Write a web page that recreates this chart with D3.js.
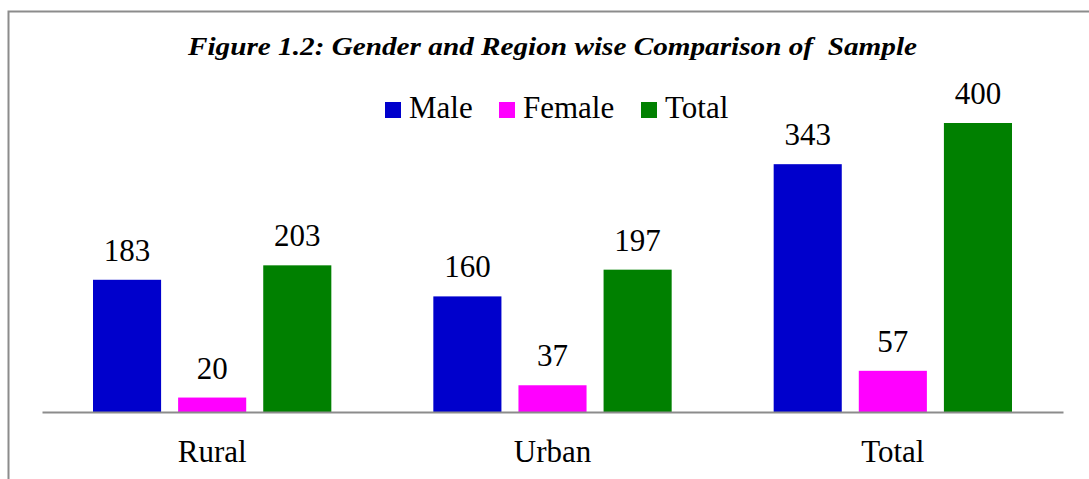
<!DOCTYPE html>
<html><head><meta charset="utf-8">
<script src="https://cdn.jsdelivr.net/npm/d3@7"></script>
<style>body{margin:0;background:#fff}svg{display:block}text{white-space:pre}</style>
</head><body>
<script>
const categories = ["Rural", "Urban", "Total"];
const seriesNames = ["Male", "Female", "Total"];
const male = [183, 160, 343];
const female = [20, 37, 57];
const total = [203, 197, 400];
const colors = ["#0000CC", "#FF00FF", "#008000"];
const title = "Figure 1.2: Gender and Region wise Comparison of  Sample";

const W = 1089, H = 479;
const svg = d3.select("body").append("svg").attr("width", W).attr("height", H);
const font = "'Liberation Serif','Times New Roman',serif";

// border
svg.append("path").attr("d", `M8.5,${H} L8.5,11.5 L${W},11.5`).attr("fill","none").attr("stroke","#8c8c8c").attr("stroke-width",2);

const series = [male, female, total];
const x0 = d3.scaleBand().domain(categories).range([42, 1063]).paddingInner(0).paddingOuter(0);
const x1 = d3.scaleBand().domain(seriesNames).range([51, x0.bandwidth()-51]).paddingInner(0.2).paddingOuter(0);
const y = d3.scaleLinear().domain([0, 400]).range([412, 123]);

const g = svg.append("g");
categories.forEach((c, ci) => {
  const gg = g.append("g").attr("transform", `translate(${x0(c)},0)`);
  seriesNames.forEach((s, si) => {
    const v = series[si][ci];
    gg.append("rect").attr("x", x1(s)).attr("y", y(v)).attr("width", x1.bandwidth()).attr("height", y(0)-y(v)).attr("fill", colors[si]);
    gg.append("text").attr("x", x1(s)+x1.bandwidth()/2).attr("y", y(v)-19).attr("text-anchor","middle")
      .attr("font-family", font).attr("font-size", 31).attr("fill","#000").text(v);
  });
});

// baseline axis
const xAxis = d3.axisBottom(x0).tickSize(0).tickPadding(0);
const ax = svg.append("g").attr("transform", `translate(0,${y(0)})`).call(xAxis);
ax.select(".domain").attr("stroke","#8c8c8c").attr("stroke-width",2);
ax.selectAll("text").attr("font-family", font).attr("font-size", 31).attr("fill","#000").attr("dy", null).attr("y", 50);

// title
svg.append("text").attr("x", 188).attr("y", 55)
  .attr("font-family", font).attr("font-size", 26).attr("font-weight","bold").attr("font-style","italic")
  .attr("textLength", 729).attr("lengthAdjust", "spacingAndGlyphs").text(title);

// legend
const legX = [385, 499, 641];
seriesNames.forEach((s, i) => {
  svg.append("rect").attr("x", legX[i]).attr("y", 102).attr("width", 16).attr("height", 16).attr("fill", colors[i]);
  svg.append("text").attr("x", legX[i]+24).attr("y", 118).attr("font-family", font).attr("font-size", 31).text(s);
});
</script>
</body></html>
